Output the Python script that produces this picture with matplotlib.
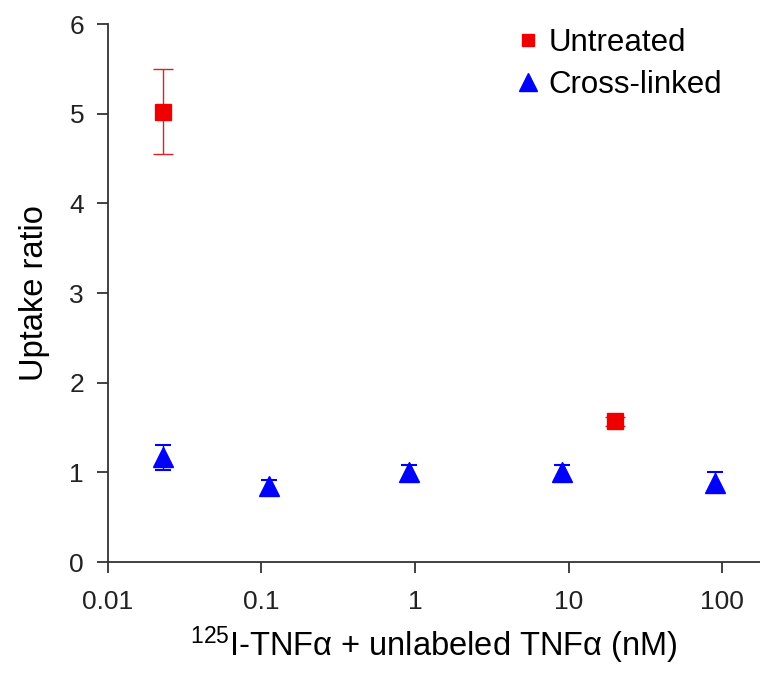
import numpy as np
import matplotlib
matplotlib.use("Agg")
import matplotlib.pyplot as plt
from matplotlib.lines import Line2D

plt.rcParams['font.family'] = ['Liberation Sans', 'DejaVu Sans']
plt.rcParams['mathtext.fontset'] = 'custom'
plt.rcParams['mathtext.rm'] = 'Liberation Sans'

# Untreated
untreated_x = [0.0228, 20.0]
untreated_y = [5.02, 1.57]
untreated_lo = [0.47, 0.05]
untreated_hi = [0.48, 0.05]

# Cross-linked
cross_x = [0.0228, 0.113, 0.91, 9.0, 89.0]
cross_y = [1.17, 0.85, 1.00, 1.00, 0.88]
cross_lo = [0.14, 0.09, 0.10, 0.10, 0.10]
cross_hi = [0.13, 0.07, 0.08, 0.08, 0.12]

red = '#ee0000'
blue = '#0000ff'

fig = plt.figure(figsize=(7.6, 6.75), dpi=100)
ax = fig.add_axes([0.1417, 0.1674, 0.8583, 0.797])

ax.errorbar(cross_x, cross_y, yerr=[cross_lo, cross_hi], fmt='^', color=blue,
            ms=14, ecolor=blue, elinewidth=1, capsize=6, capthick=1.5, zorder=3)
ax.errorbar(untreated_x, untreated_y, yerr=[untreated_lo, untreated_hi], fmt='s',
            color=red, ms=11, ecolor='#dd2222', elinewidth=1, capsize=7,
            capthick=1, zorder=4)

ax.set_xscale('log')
ax.set_xlim(0.01, 176)
ax.set_ylim(0, 6)
ax.set_xticks([0.01, 0.1, 1, 10, 100])
ax.set_xticklabels(['0.01', '0.1', '1', '10', '100'])
ax.minorticks_off()
ax.set_yticks(range(7))

for s in ['top', 'right']:
    ax.spines[s].set_visible(False)
for s in ['left', 'bottom']:
    ax.spines[s].set_linewidth(1.3)
    ax.spines[s].set_color('#333333')

ax.tick_params(axis='both', direction='out', length=8, width=1.3, labelsize=19,
               color='#333333', labelcolor='#222222')
ax.tick_params(axis='x', pad=12)
ax.tick_params(axis='y', pad=9)

ax.set_ylabel('Uptake ratio', fontsize=23.5, labelpad=14)
ax.set_xlabel(r'$\mathregular{^{125}}$I-TNFα + unlabeled TNFα (nM)', fontsize=23.5, labelpad=8)

handles = [Line2D([], [], ls='none', marker='s', color=red, ms=8.5),
           Line2D([], [], ls='none', marker='^', color=blue, ms=13)]
fig.legend(handles, ['Untreated', 'Cross-linked'], loc='upper left',
           bbox_to_anchor=(0.674, 0.958), frameon=False, fontsize=22.5,
           handletextpad=0.15, labelspacing=0.38, handlelength=1.0,
           borderaxespad=0, borderpad=0)

fig.savefig('out.png', dpi=100)
